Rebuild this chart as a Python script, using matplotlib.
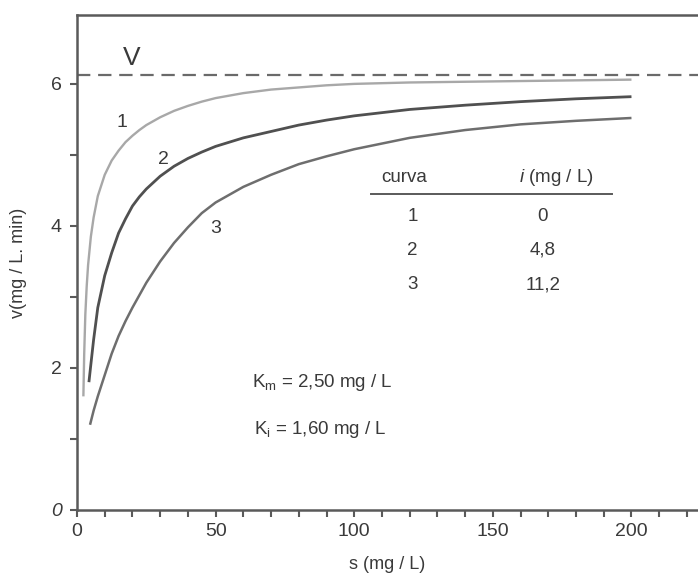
import matplotlib
matplotlib.use("Agg")
import matplotlib.pyplot as plt
from matplotlib.ticker import MultipleLocator

plt.rcParams['font.family'] = ['Liberation Sans', 'DejaVu Sans']
plt.rcParams['mathtext.fontset'] = 'custom'
plt.rcParams['mathtext.rm'] = 'Liberation Sans'
plt.rcParams['mathtext.it'] = 'Liberation Sans:italic'

# ---- data ----
s1 = [2.3, 2.6, 3.0, 3.5, 4, 5, 6, 7.5, 10, 12.5, 15, 17.5, 20, 22.5, 25, 30, 35, 40, 45, 50,
      60, 70, 80, 90, 100, 120, 140, 160, 180, 200]
v1 = [1.6, 2.2, 2.75, 3.15, 3.45, 3.85, 4.12, 4.42, 4.72, 4.92, 5.06, 5.18, 5.27, 5.35, 5.42,
      5.53, 5.62, 5.69, 5.75, 5.80, 5.87, 5.92, 5.95, 5.98, 6.0, 6.02, 6.03, 6.04, 6.05, 6.06]

s2 = [4.3, 5, 6, 7.5, 10, 12.5, 15, 17.5, 20, 22.5, 25, 30, 35, 40, 45, 50, 60, 70, 80, 90,
      100, 120, 140, 160, 180, 200]
v2 = [1.8, 2.05, 2.4, 2.85, 3.3, 3.62, 3.9, 4.1, 4.28, 4.41, 4.52, 4.7, 4.84, 4.95, 5.04, 5.12,
      5.24, 5.33, 5.42, 5.49, 5.55, 5.64, 5.7, 5.75, 5.79, 5.82]

s3 = [4.7, 6, 7.5, 10, 12.5, 15, 17.5, 20, 25, 30, 35, 40, 45, 50, 60, 70, 80, 90, 100, 120,
      140, 160, 180, 200]
v3 = [1.2, 1.4, 1.6, 1.9, 2.2, 2.45, 2.66, 2.85, 3.2, 3.5, 3.76, 3.98, 4.18, 4.33, 4.55, 4.72,
      4.87, 4.98, 5.08, 5.24, 5.35, 5.43, 5.48, 5.52]

V_max = 6.12
curve_ids = ["1", "2", "3"]
inhib = ["0", "4,8", "11,2"]
x_ticks = [0, 50, 100, 150, 200]
y_ticks = [0, 2, 4, 6]

fig = plt.figure(figsize=(6.98, 5.79), dpi=100)
ax = fig.add_axes([77 / 698, 69 / 579, 1 - 77 / 698, (510 - 15) / 579])
ax.set_xlim(0, 224)
ax.set_ylim(0, 6.97)

spine_col = '#5a5a5a'
for side in ['left', 'bottom', 'top']:
    ax.spines[side].set_color(spine_col)
    ax.spines[side].set_linewidth(1.8)
ax.spines['right'].set_visible(False)

ax.plot(s1, v1, color='#a8a8a8', lw=1.7, solid_capstyle='butt', solid_joinstyle='round')
ax.plot(s2, v2, color='#505050', lw=2.0, solid_capstyle='butt', solid_joinstyle='round')
ax.plot(s3, v3, color='#6e6e6e', lw=1.8, solid_capstyle='butt', solid_joinstyle='round')
ax.axhline(V_max, color='#6a6a6a', lw=1.6, ls=(0, (6, 3.5)))

# ticks
ax.set_xticks(x_ticks)
ax.set_xticklabels([str(t) for t in x_ticks])
ax.xaxis.set_minor_locator(MultipleLocator(10))
ax.set_yticks(y_ticks)
ax.set_yticklabels([str(t) for t in y_ticks])
ax.yaxis.set_minor_locator(MultipleLocator(1))
ax.tick_params(axis='both', which='both', direction='out', color=spine_col, width=1.5,
               labelsize=14, labelcolor='#3a3a3a')
ax.tick_params(axis='x', which='both', length=5, pad=4)
ax.tick_params(axis='y', which='both', length=5, pad=6)
for lab in ax.get_yticklabels():
    if lab.get_text() == '0':
        lab.set_style('italic')

ax.set_xlabel('s (mg / L)', fontsize=13, color='#3a3a3a', labelpad=12)
ax.set_ylabel('v(mg / L. min)', fontsize=13, color='#3a3a3a', labelpad=17)

tc = '#3a3a3a'
ax.text(19.8, 6.37, 'V', fontsize=19, ha='center', va='center', color=tc)
ax.text(16.2, 5.46, curve_ids[0], fontsize=14, ha='center', va='center', color=tc)
ax.text(31, 4.93, curve_ids[1], fontsize=14, ha='center', va='center', color=tc)
ax.text(50, 3.97, curve_ids[2], fontsize=14, ha='center', va='center', color=tc)

# inset table
ax.text(118, 4.68, 'curva', fontsize=13.5, ha='center', va='center', color=tc)
ax.text(173, 4.68, r'$\it{i}$ (mg / L)', fontsize=13.5, ha='center', va='center', color=tc)
ax.plot([106, 193], [4.45, 4.45], color='#5a5a5a', lw=1.4)
rows_y = [4.13, 3.66, 3.17]
for cid, iv, yy in zip(curve_ids, inhib, rows_y):
    ax.text(121, yy, cid, fontsize=13.5, ha='center', va='center', color=tc)
    ax.text(168, yy, iv, fontsize=13.5, ha='center', va='center', color=tc)

ax.text(63, 1.79, r'K$_\mathrm{m}$ = 2,50 mg / L', fontsize=13.5, ha='left', va='center', color=tc)
ax.text(64, 1.13, r'K$_\mathrm{i}$ = 1,60 mg / L', fontsize=13.5, ha='left', va='center', color=tc)

fig.savefig('out.png', dpi=100)
